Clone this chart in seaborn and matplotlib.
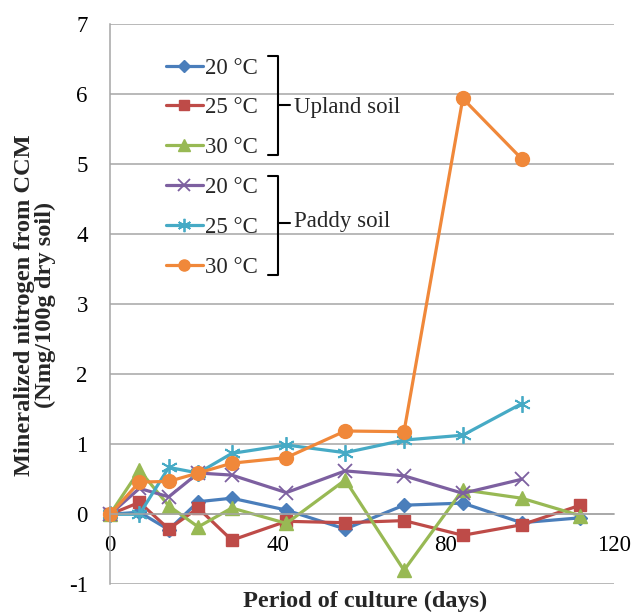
import matplotlib
matplotlib.use("Agg")
import matplotlib.pyplot as plt
from matplotlib.lines import Line2D
import seaborn as sns
import pandas as pd

# ---- data ----
days_upland = [0, 7, 14, 21, 29, 42, 56, 70, 84, 98, 112]
days_paddy = [0, 7, 14, 21, 29, 42, 56, 70, 84, 98]

upland_20 = [0, 0.03, -0.22, 0.18, 0.23, 0.06, -0.21, 0.13, 0.16, -0.12, -0.05]
upland_25 = [0, 0.17, -0.21, 0.09, -0.37, -0.10, -0.12, -0.09, -0.30, -0.15, 0.13]
upland_30 = [0, 0.63, 0.12, -0.18, 0.09, -0.13, 0.49, -0.80, 0.35, 0.23, -0.02]

paddy_20 = [0, 0.37, 0.25, 0.59, 0.56, 0.31, 0.62, 0.55, 0.30, 0.50]
paddy_25 = [0, 0.00, 0.67, 0.59, 0.87, 0.99, 0.88, 1.06, 1.13, 1.58]
paddy_30 = [0, 0.46, 0.47, 0.59, 0.73, 0.81, 1.19, 1.18, 5.94, 5.08]

labels = ["20 °C", "25 °C", "30 °C", "20 °C", "25 °C", "30 °C"]
x_ticks = [0, 40, 80, 120]
y_ticks = [-1, 0, 1, 2, 3, 4, 5, 6, 7]

# ---- style ----
sns.set_style("white")
plt.rcParams["font.family"] = ["Liberation Serif", "DejaVu Serif"]
plt.rcParams["axes.unicode_minus"] = False

W, H = 633, 613
fig = plt.figure(figsize=(W / 100, H / 100), dpi=100)
L, R, T, B = 110, 614, 24.3, 584.3
ax = fig.add_axes([L / W, 1 - B / H, (R - L) / W, (B - T) / H])

colors = ["#4A7EBB", "#BE4B48", "#98B954", "#7D60A0", "#46AAC5", "#F0883A"]
series = [
    (days_upland, upland_20, "D", 7.5, 1.0),
    (days_upland, upland_25, "s", 9.0, 1.0),
    (days_upland, upland_30, "^", 10.5, 1.0),
    (days_paddy, paddy_20, "x", 10.0, 1.3),
    (days_paddy, paddy_25, (6, 2, 0), 12.0, 1.3),
    (days_paddy, paddy_30, "o", 10.0, 1.0),
]

handles = []
for (xs, ys, mk, ms, mew), c, lab in zip(series, colors, labels):
    df = pd.DataFrame({"day": xs, "val": ys})
    sns.lineplot(data=df, x="day", y="val", ax=ax, color=c, linewidth=2.3,
                 marker=mk, markersize=ms, markeredgecolor=c,
                 markerfacecolor=c, markeredgewidth=mew, legend=False,
                 clip_on=False)
    handles.append(Line2D([], [], color=c, lw=2.3, marker=mk,
                          markersize=ms * 0.8, markeredgecolor=c,
                          markerfacecolor=c, markeredgewidth=mew))

ax.set_xlim(0, 120)
ax.set_ylim(-1, 7)
ax.set_xticks(x_ticks)
ax.set_yticks(y_ticks)
ax.set_xticklabels([str(v) for v in x_ticks])
ax.set_yticklabels([str(v) for v in y_ticks])
ax.yaxis.grid(True, color="#A6A6A6", lw=1.1)
ax.xaxis.grid(False)
ax.set_axisbelow(True)
for s in ["top", "right"]:
    ax.spines[s].set_visible(False)
ax.spines["left"].set_color("#A6A6A6")
ax.spines["left"].set_linewidth(1.1)
ax.spines["bottom"].set_position(("data", 0))
ax.spines["bottom"].set_color("#A6A6A6")
ax.spines["bottom"].set_linewidth(1.1)
ax.tick_params(axis="both", length=0, labelsize=16.5, colors="black")
ax.tick_params(axis="x", pad=15)
ax.tick_params(axis="y", pad=16)
ax.set_xlabel("")
ax.set_ylabel("")

# axis titles
fig.text((L + R) / 2 / W + 3 / W, 1 - 606.5 / H, "Period of culture (days)",
         ha="center", va="baseline", fontsize=17.5, fontweight="bold")
fig.text(35 / W, 1 - 305 / H,
         "Mineralized nitrogen from CCM\n(Nmg/100g dry soil)",
         ha="center", va="center", rotation=90, fontsize=17.6,
         fontweight="bold", linespacing=1.05, multialignment="center")

# legend
leg = fig.legend(handles=handles, labels=labels, loc="upper left",
                 bbox_to_anchor=(166 / W, 1 - 57.5 / H), frameon=False,
                 fontsize=16.5, handlelength=1.6, handletextpad=0.1,
                 labelspacing=0.82, borderpad=0, borderaxespad=0)

# brackets with group labels
def bracket(y0, y1, ytip):
    xs_ = [268 / W, 277.7 / W, 277.7 / W, 268 / W]
    ys_ = [1 - y0 / H, 1 - y0 / H, 1 - y1 / H, 1 - y1 / H]
    fig.add_artist(Line2D(xs_, ys_, color="black", lw=1.5,
                          transform=fig.transFigure))
    fig.add_artist(Line2D([277.7 / W, 290 / W], [1 - ytip / H, 1 - ytip / H],
                          color="black", lw=1.5, transform=fig.transFigure))

bracket(56, 155, 105)
bracket(176, 275, 223)
fig.text(294 / W, 1 - 107 / H, "Upland soil", ha="left", va="center",
         fontsize=16.5)
fig.text(294 / W, 1 - 222 / H, "Paddy soil", ha="left", va="center",
         fontsize=16.5)

fig.savefig("out.png", dpi=100)
